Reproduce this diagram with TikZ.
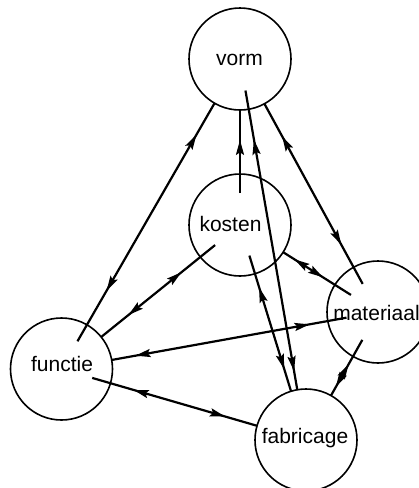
\documentclass[tikz,border=0pt]{standalone}
\usepackage{fontspec}
\setmainfont{Liberation Sans}
\usetikzlibrary{arrows.meta,decorations.markings,calc}
\begin{document}
\begin{tikzpicture}[x=1pt,y=-1pt,
  circ/.style={draw,circle,line width=1.6pt,minimum size=102pt,inner sep=0pt,outer sep=0pt},
  lbl/.style={anchor=base,inner sep=0pt,font=\fontsize{21}{24}\selectfont},
  conn/.style={line width=2.2pt},
  >={Stealth[length=15pt,width=8pt,inset=2.5pt]},
  fwd/.style={postaction={decorate,decoration={markings,mark=at position #1 with {\arrow{>}}}}},
  bwd/.style={postaction={decorate,decoration={markings,mark=at position #1 with {\arrowreversed{>}}}}},
]
\clip (0,0) rectangle (419,488);

\node[circ] (vorm) at (240,59) {};
\node[circ] (kosten) at (240,225) {};
\node[circ] (materiaal) at (378,312) {};
\node[circ] (functie) at (61.5,369) {};
\node[circ] (fabricage) at (306,440) {};

\node[lbl] (tvorm) at (239.5,65) {vorm};
\node[lbl] (tkosten) at (230.5,231) {kosten};
\node[lbl] (tmateriaal) at (376.5,320) {materiaal};
\node[lbl] (tfunctie) at (62,371) {functie};
\node[lbl] (tfabricage) at (305,443) {fabricage};

\coordinate (fv) at ($(functie.center)!32pt!(vorm.center)$);
\coordinate (kf) at ($(kosten.center)!32pt!(functie.center)$);
\coordinate (mf) at ($(materiaal.center)!32pt!(functie.center)$);
\coordinate (fb) at ($(functie.center)!32pt!(fabricage.center)$);
\coordinate (kv) at ($(kosten.center)!32pt!(vorm.center)$);
\coordinate (kb) at ($(kosten.center)!32pt!(fabricage.center)$);
\coordinate (vb) at ($(vorm.center)!32pt!(fabricage.center)$);
\coordinate (mv) at ($(materiaal.center)!32pt!(vorm.center)$);
\coordinate (mk) at ($(materiaal.center)!32pt!(kosten.center)$);
\coordinate (mb) at ($(materiaal.center)!32pt!(fabricage.center)$);

\draw[conn,fwd=0.868,bwd=0.212] (fv) -- (vorm);
\draw[conn,bwd=0.296,fwd=0.761] (kf) -- (functie);
\draw[conn,bwd=0.157,fwd=0.899] (mf) -- (functie);
\draw[conn,bwd=0.251,fwd=0.806] (fb) -- (fabricage);
\draw[conn,fwd=0.64] (kv) -- (vorm);
\draw[conn,bwd=0.235,fwd=0.837] (kb) -- (fabricage);
\draw[conn,bwd=0.164,fwd=0.938] (vb) -- (fabricage);
\draw[conn,fwd=0.82,bwd=0.217] (mv) -- (vorm);
\draw[conn,fwd=0.833,bwd=0.413] (mk) -- (kosten);
\draw[conn,bwd=0.437,fwd=0.847] (mb) -- (fabricage);
\end{tikzpicture}
\end{document}
